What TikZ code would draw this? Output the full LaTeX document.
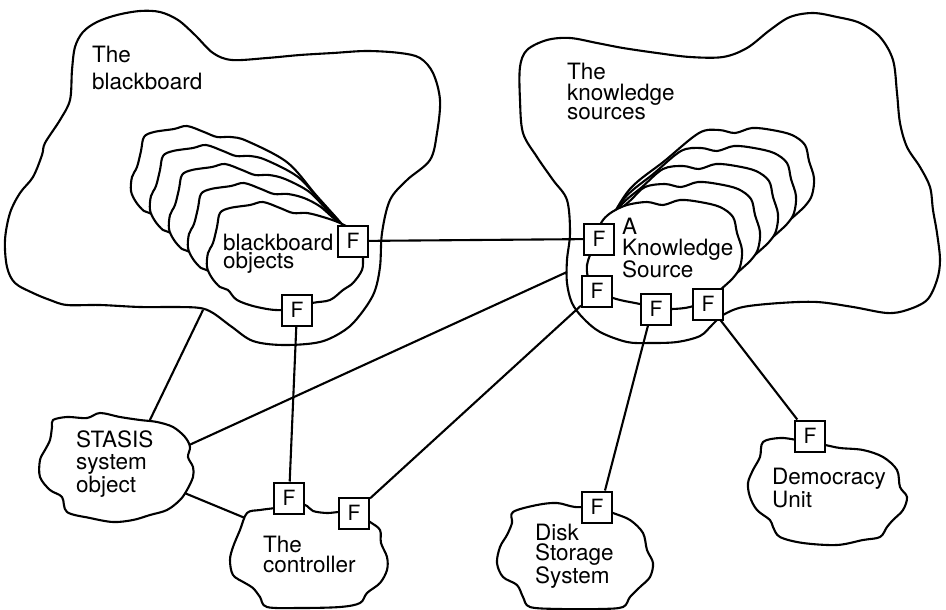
\documentclass[tikz,border=0pt]{standalone}
\usepackage{fontspec}
\setmainfont{TeX Gyre Heros}
\pgfdeclarelayer{bg}
\pgfdeclarelayer{lines}
\pgfdeclarelayer{stack}
\pgfsetlayers{bg,lines,stack,main}
\begin{document}
\begin{tikzpicture}[x=1pt,y=-1pt,
  outline/.style={draw=black,line width=2.1pt,line join=round},
  blob/.style={outline,fill=white},
  fbox/.style={draw=black,line width=2pt,fill=white,minimum width=30pt,minimum height=31pt,inner sep=0pt,font=\fontsize{21}{21}\selectfont},
  lbl/.style={anchor=base west,align=left,inner sep=0pt,font=\fontsize{22.5}{20}\selectfont},
  conn/.style={line width=2.1pt}]
\useasboundingbox (0,0) rectangle (946,610);

% ---------- F interface boxes ----------
\node[fbox] (fL1) at (353,241) {F};
\node[fbox] (fL2) at (297,310) {F};
\node[fbox] (fR1) at (599,239) {F};
\node[fbox] (fR2) at (597,291) {F};
\node[fbox] (fR3) at (656,309) {F};
\node[fbox] (fR4) at (708,304) {F};
\node[fbox] (fC1) at (289,498) {F};
\node[fbox] (fC2) at (354,513) {F};
\node[fbox] (fD)  at (597,507) {F};
\node[fbox] (fU)  at (810,436) {F};

% ---------- labels (anchored at the baseline of the last line) ----------
\node[lbl] (tBB) at (92,90) {The\\[8pt]blackboard};
\node[lbl] (tKS) at (567,120) {The\\[1pt]knowledge\\[-1pt]sources};
\node[lbl] (tBO) at (223,268) {blackboard\\[-2pt]objects};
\node[lbl] (tAK) at (622,277) {A\\[1pt]Knowledge\\[-1pt]Source};
\node[lbl] (tST) at (76,492) {STASIS\\[2pt]system\\object};
\node[lbl] (tCT) at (263,572) {The\\controller};
\node[lbl] (tDK) at (535,583) {Disk\\Storage\\System};
\node[lbl] (tDU) at (772,507) {Democracy\\Unit};

% ---------- free connector ends ----------
\coordinate (sTop) at (134,453);
\coordinate (bbEdge) at (203,310);
\coordinate (sRight) at (163,457);
\coordinate (ksEdge) at (567,272);
\coordinate (sLow) at (170,487);
\coordinate (cLeft) at (262,525);

% ---------- big regions ----------
\begin{pgfonlayer}{bg}
\draw[outline] plot[smooth cycle,tension=0.55] coordinates {
 (75,47) (83,32) (97,22) (117,15) (140,11) (160,12) (178,20) (195,35) (213,53) (232,60)
 (267,58) (300,55) (333,53) (367,51) (400,53) (420,58) (433,73) (440,100) (437,133)
 (430,160) (407,180) (390,200) (382,233) (380,267) (374,293) (360,315) (345,330)
 (320,342) (283,345) (253,341) (232,327) (213,313) (200,308) (177,307) (140,307)
 (100,305) (67,305) (50,300) (33,293) (15,283) (7,267) (5,240) (10,213) (20,193)
 (33,177) (42,155) (45,143) (60,120) (70,100) (72,70)};
\draw[outline] plot[smooth cycle,tension=0.55] coordinates {
 (520,67) (527,50) (547,40) (570,38) (597,43) (623,48) (657,53) (690,57) (723,57)
 (747,48) (770,30) (790,17) (813,13) (837,17) (860,23) (880,37) (893,60) (897,93)
 (900,123) (907,147) (920,167) (930,187) (933,210) (937,233) (940,260) (937,280)
 (927,300) (907,310) (887,313) (853,307) (817,302) (780,303) (743,307) (723,315)
 (712,325) (700,336) (677,342) (650,343) (627,342) (600,332) (583,318) (572,303)
 (567,283) (567,260) (570,233) (567,200) (553,180) (537,157) (523,133) (520,100)};
\end{pgfonlayer}

% ---------- connectors ----------
\begin{pgfonlayer}{lines}
\draw[conn] (fL1) -- (fR1);
\draw[conn] (fL2) -- (fC1);
\draw[conn] (fC2) -- (fR2);
\draw[conn] ([xshift=-8pt]fR3.south) -- ([xshift=8pt]fD.north);
\draw[conn] (fR4) -- (fU);
\draw[conn] (sTop) -- (bbEdge);
\draw[conn] (sRight) -- (ksEdge);
\draw[conn] (sLow) -- (cLeft);
\end{pgfonlayer}

% ---------- stacked objects and small units ----------
\begin{pgfonlayer}{stack}
% blackboard objects (back to front)
\foreach \k in {4,3,2,1}{
  \pgfmathsetmacro\sh{19*\k}
  \draw[blob] plot[smooth cycle,tension=0.55] coordinates {
   ({220-\sh},{213-\sh}) ({230-\sh},{208-\sh}) ({250-\sh},{205-\sh}) ({263-\sh},{202-\sh})
   ({280-\sh},{208-\sh}) ({293-\sh},{213-\sh}) ({307-\sh},{213-\sh}) ({323-\sh},{217-\sh})
   ({(2*(323-\sh)+345)/3+0.1*\sh},{(2*(217-\sh)+228)/3-0.1*\sh})
   ({((323-\sh)+690)/3+0.05*\sh},{((217-\sh)+456)/3-0.05*\sh})
   (345,228) (355,245) (345,270)
   ({300-\sh},{305-\sh}) ({282-\sh},{310-\sh}) ({257-\sh},{307-\sh}) ({237-\sh},{300-\sh})
   ({228-\sh},{290-\sh}) ({220-\sh},{287-\sh}) ({212-\sh},{278-\sh}) ({207-\sh},{267-\sh})
   ({208-\sh},{253-\sh}) ({213-\sh},{243-\sh}) ({217-\sh},{227-\sh})};
}
\draw[blob] plot[smooth cycle,tension=0.55] coordinates {
 (220,213) (230,208) (250,205) (263,202) (280,208) (293,213) (307,213) (323,217)
 (340,223) (355,232) (363,245) (363,257) (362,270) (353,283) (343,290) (330,300)
 (312,303) (282,310) (257,307) (237,300) (228,290) (220,287) (212,278) (207,267)
 (208,253) (213,243) (217,227)};
% knowledge sources (back to front)
\foreach \k in {4,3,2,1}{
  \pgfmathsetmacro\sh{18*\k}
  \draw[blob] plot[smooth cycle,tension=0.55] coordinates {
   (606,228)
   ({(1212+627+\sh)/3-0.1*\sh},{(456+205-\sh)/3-0.1*\sh})
   ({(606+2*(627+\sh))/3-0.05*\sh},{(228+2*(205-\sh))/3-0.05*\sh})
   ({627+\sh},{205-\sh}) ({647+\sh},{202-\sh}) ({663+\sh},{205-\sh}) ({680+\sh},{200-\sh})
   ({700+\sh},{202-\sh}) ({720+\sh},{207-\sh}) ({733+\sh},{217-\sh}) ({737+\sh},{233-\sh})
   ({742+\sh},{250-\sh}) ({740+\sh},{267-\sh}) ({733+\sh},{278-\sh}) ({720+\sh},{290-\sh})
   ({708+\sh},{300-\sh}) ({690+\sh},{307-\sh})
   ({665+0.5*\sh},{300-\sh}) (630,265) (598,245)};
}
\draw[blob] plot[smooth cycle,tension=0.55] coordinates {
 (603,220) (612,212) (627,205) (647,202) (663,205) (680,200) (700,202) (720,207)
 (733,217) (737,233) (742,250) (740,267) (733,278) (720,290) (708,300) (690,307)
 (672,309) (655,308) (640,304) (620,300) (605,295) (595,288) (588,277) (587,265)
 (590,255) (595,240) (598,230)};
% STASIS system object
\draw[blob] plot[smooth cycle,tension=0.55] coordinates {
 (53,420) (67,417) (87,418) (100,413) (120,417) (140,420) (157,422) (173,427) (185,437)
 (190,447) (188,457) (193,467) (193,477) (187,490) (180,500) (167,510) (150,515)
 (133,520) (113,522) (90,518) (67,512) (62,497) (50,490) (40,477) (40,460) (45,450)
 (50,440) (52,427)};
% controller
\draw[blob] plot[smooth cycle,tension=0.55] coordinates {
 (247,513) (260,510) (275,508) (290,505) (305,505) (313,511) (327,513) (340,512)
 (355,513) (370,522) (380,530) (381,543) (387,557) (387,570) (380,583) (367,593)
 (360,603) (340,607) (300,608) (267,607) (260,597) (253,588) (245,583) (233,575)
 (230,560) (233,547) (240,530)};
% disk storage
\draw[blob] plot[smooth cycle,tension=0.55] coordinates {
 (513,512) (537,505) (557,503) (575,507) (597,507) (613,513) (630,520) (643,533)
 (647,550) (653,563) (650,577) (640,587) (630,597) (623,607) (600,609) (560,609)
 (530,607) (523,597) (517,585) (503,577) (497,563) (500,547) (507,535) (512,523)};
% democracy unit
\draw[blob] plot[smooth cycle,tension=0.55] coordinates {
 (763,442) (780,438) (797,440) (825,445) (840,448) (863,450) (883,457) (897,470)
 (900,487) (907,497) (903,510) (893,520) (887,527) (880,537) (863,540) (837,545)
 (803,543) (780,537) (773,527) (770,520) (757,510) (750,497) (748,483) (753,470)
 (760,457)};
\end{pgfonlayer}
\end{tikzpicture}
\end{document}
